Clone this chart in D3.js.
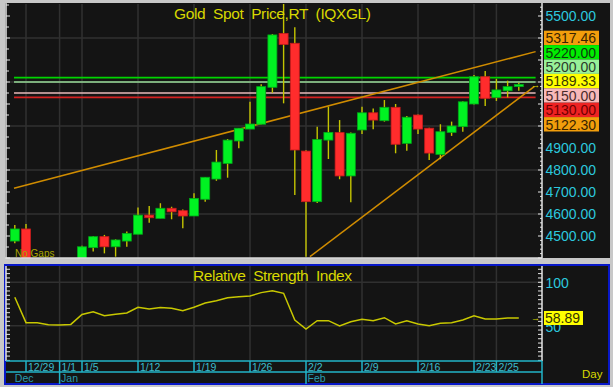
<!DOCTYPE html>
<html>
<head>
<meta charset="utf-8">
<script src="https://cdn.jsdelivr.net/npm/d3@7"></script>
<style>
body { margin: 0; background: #c8c8c8; }
svg { display: block; font-family: "Liberation Sans", Arial, sans-serif; }
</style>
</head>
<body>
<svg id="chart" width="613" height="387"></svg>
<script>
// daily bars, 12/26 .. 2/27
const dates = ["12/26","12/29","12/30","12/31","1/1","1/2","1/5","1/6","1/7","1/8","1/9",
  "1/12","1/13","1/14","1/15","1/16","1/19","1/20","1/21","1/22","1/23",
  "1/26","1/27","1/28","1/29","1/30","2/2","2/3","2/4","2/5","2/6",
  "2/9","2/10","2/11","2/12","2/13","2/16","2/17","2/18","2/19","2/20",
  "2/23","2/24","2/25","2/26","2/27"];
const open  = [4477,4532,4335,4370,4315,4320,4330,4447,4497,4451,4477,
  4508,4595,4580,4626,4615,4591,4667,4759,4830,4932,
  4986,5008,5176,5421,5376,4886,4656,4936,4970,4773,
  4982,5060,5024,5085,4921,5050,4990,4871,4971,4997,
  5100,5224,5129,5160,5179];
const high  = [4550,4555,4385,4378,4345,4390,4456,4500,4505,4485,4520,
  4630,4636,4649,4633,4621,4694,4767,4891,4941,4990,
  5110,5190,5418,5598,5449,4890,4997,5088,5027,4970,
  5088,5080,5118,5100,5045,5052,4992,5008,5020,5112,
  5232,5250,5214,5206,5197];
const low   = [4467,4305,4320,4290,4305,4310,4320,4429,4421,4406,4451,
  4508,4560,4580,4576,4535,4591,4656,4751,4765,4899,
  4986,5008,5151,5103,4686,4406,4650,4850,4758,4653,
  4964,4985,5020,4876,4888,4964,4845,4849,4955,4974,
  5098,5091,5114,5130,5160];
const close = [4532,4335,4370,4315,4330,4330,4451,4497,4451,4482,4512,
  4595,4583,4626,4610,4591,4671,4767,4836,4936,4990,
  5009,5179,5414,5371,4891,4656,4939,4971,4773,4967,
  5060,5027,5085,4917,5040,4986,4877,4974,5000,5110,
  5224,5126,5164,5179,5189.33];
const rsi = [82.7,53.5,53.3,51.0,50.8,51.5,63.0,66.0,61.5,63.3,64.6,
  71.2,69.2,71.0,70.0,67.3,71.2,76.2,78.8,82.3,83.4,
  84.2,88.1,90.3,87.3,56.6,46.2,55.8,55.8,49.7,54.6,
  57.4,55.8,59.2,52.0,55.8,52.0,50.0,52.8,53.5,56.6,
  61.5,57.7,57.7,58.89,58.89];

const dateTicks = ["12/29","1/1","1/5","1/12","1/19","1/26","2/2","2/9","2/16","2/23","2/25"];
const monthNames = ["Dec","Jan","Feb"];
const monthStarts = ["12/26","1/1","2/2"];
const priceTicks = [5500,4900,4800,4700,4600,4500]; // 5000-5400 sit under the value tags
const priceGrid = [5400,5200,5000,4800,4600];
const rsiTicks = [100,50];

const levelValues = [5220,5200,5150,5130];
const levelColors = ["#00d400","#98dc98","#e8b8b8","#d42020"];
// trend lines as [bar index, price] end points
const trendA = [[-0.07,4717],[46.5,5338]];
const trendB = [[26.35,4406],[46.4,5180]];

const tagValues = [5317.46,5220.00,5200.00,5189.33,5150.00,5130.00,5122.30];
const tagFills  = ["#f29e0c","#00ee00","#98f098","#ffff00","#f7b9b9","#ee2222","#f29e0c"];
const tagInk    = ["#3a2400","#0e3a0e","#2a3a2a","#3a3a00","#4a2a2a","#700000","#3a2400"];
const lastRsi = 58.89;

const svg = d3.select("#chart");
const bg = "#141414", gridC = "#303030", cyan = "#2cc8de", yel = "#d8d800";

// panels
svg.append("rect").attr("x",5).attr("y",3).attr("width",605).attr("height",255).attr("fill",bg);
svg.append("rect").attr("x",5).attr("y",265).attr("width",604).attr("height",119)
  .attr("fill",bg).attr("stroke","#0818c8").attr("stroke-width",2);

const x = d3.scaleLinear().domain([0,45]).range([14.8,518.8]);
const y = d3.scaleLinear().domain([4400,5400]).range([258,38]);
const yr = d3.scaleLinear().domain([50,100]).range([325.7,282.3]);
const idx = d => dates.indexOf(d);

svg.append("clipPath").attr("id","clipMain").append("rect")
  .attr("x",6).attr("y",4).attr("width",536).attr("height",254);

const main = svg.append("g").attr("clip-path","url(#clipMain)");

// grid
main.selectAll(".hg").data(priceGrid).enter().append("line")
  .attr("x1",6).attr("x2",542).attr("y1",d=>y(d)).attr("y2",d=>y(d))
  .attr("stroke",gridC).attr("stroke-width",1.5);
main.selectAll(".vg").data(dateTicks).enter().append("line")
  .attr("x1",d=>x(idx(d))).attr("x2",d=>x(idx(d))).attr("y1",4).attr("y2",258)
  .attr("stroke",gridC).attr("stroke-width",1.5);

// level lines
main.selectAll(".lvl").data(levelValues).enter().append("line")
  .attr("x1",x(-0.07)).attr("x2",x(46.5))
  .attr("y1",d=>y(d)).attr("y2",d=>y(d))
  .attr("stroke",(d,i)=>levelColors[i]).attr("stroke-width",1.6);

// trend lines
[trendA,trendB].forEach(t => {
  main.append("line")
    .attr("x1",x(t[0][0])).attr("y1",y(t[0][1]))
    .attr("x2",x(t[1][0])).attr("y2",y(t[1][1]))
    .attr("stroke","#d08c00").attr("stroke-width",1.5);
});

// candles
const bars = d3.range(dates.length);
main.selectAll(".wick").data(bars).enter().append("line")
  .attr("x1",i=>x(i)).attr("x2",i=>x(i))
  .attr("y1",i=>y(high[i])).attr("y2",i=>y(low[i]))
  .attr("stroke","#c4c400").attr("stroke-width",1.4);
main.selectAll(".body").data(bars).enter().append("rect")
  .attr("x",i=>x(i)-4.5).attr("width",9)
  .attr("y",i=>y(Math.max(open[i],close[i])))
  .attr("height",i=>Math.max(1.5,Math.abs(y(open[i])-y(close[i]))))
  .attr("fill",i=>close[i]>=open[i]?"#00f222":"#ff2c2c")
  .attr("stroke",i=>close[i]>=open[i]?"#00a818":"#c81c1c").attr("stroke-width",0.8);

// last price arrow
main.append("text").attr("x",531).attr("y",y(close[45])+3.5)
  .attr("fill",yel).attr("font-size",9).text("\u2192");

main.append("text").attr("x",15).attr("y",256.5).attr("fill","#a8a400")
  .attr("font-size",10).text("No Gaps");

// title
svg.append("text").attr("x",174).attr("y",18.5).attr("fill",yel)
  .attr("font-size",15.5).attr("textLength",197).attr("lengthAdjust","spacing")
  .style("white-space","pre").text("Gold  Spot  Price,RT  (IQXGL)");

// axes lines
svg.append("line").attr("x1",6).attr("x2",6).attr("y1",3).attr("y2",258).attr("stroke","#e6e6e6").attr("stroke-width",1.5);
svg.append("line").attr("x1",542).attr("x2",542).attr("y1",3).attr("y2",258).attr("stroke","#e6e6e6").attr("stroke-width",1.5);
svg.append("line").attr("x1",5).attr("x2",542).attr("y1",258).attr("y2",258).attr("stroke","#d8d8d8").attr("stroke-width",1.5);

const minor = d3.range(4400,5560,20);
svg.selectAll(".lt").data(d3.range(4400,5560,50)).enter().append("line")
  .attr("x1",6).attr("x2",d=>d%100===0?10:9).attr("y1",d=>y(d)).attr("y2",d=>y(d))
  .attr("stroke","#e6e6e6").attr("stroke-width",1);
svg.selectAll(".rt").data(minor).enter().append("line")
  .attr("x1",542).attr("x2",d=>d%100===0?538:540).attr("y1",d=>y(d)).attr("y2",d=>y(d))
  .attr("stroke","#e6e6e6").attr("stroke-width",1);

// price axis labels
svg.selectAll(".pl").data(priceTicks).enter().append("text")
  .attr("x",545.5).attr("y",d=>y(d)+5.3).attr("fill",cyan).attr("font-size",14)
  .text(d=>d3.format(".2f")(d));

// stacked value tags
const tagTop = 30.7, tagH = 14.4;
const tags = svg.selectAll(".tag").data(tagValues).enter().append("g");
tags.append("rect").attr("x",544).attr("width",55).attr("y",(d,i)=>tagTop+i*tagH).attr("height",tagH)
  .attr("fill",(d,i)=>tagFills[i]);
tags.append("text").attr("x",545.5).attr("y",(d,i)=>tagTop+i*tagH+12.5)
  .attr("fill",(d,i)=>tagInk[i]).attr("font-size",14).text(d=>d3.format(".2f")(d));

// RSI panel
svg.append("clipPath").attr("id","clipRsi").append("rect")
  .attr("x",6).attr("y",266).attr("width",536).attr("height",95);
const rp = svg.append("g").attr("clip-path","url(#clipRsi)");
rp.selectAll(".rhg").data(rsiTicks).enter().append("line")
  .attr("x1",6).attr("x2",542).attr("y1",d=>yr(d)).attr("y2",d=>yr(d))
  .attr("stroke",gridC).attr("stroke-width",1.5);
rp.selectAll(".rvg").data(dateTicks).enter().append("line")
  .attr("x1",d=>x(idx(d))).attr("x2",d=>x(idx(d))).attr("y1",266).attr("y2",361)
  .attr("stroke",gridC).attr("stroke-width",1.5);
rp.append("path").datum(rsi)
  .attr("d",d3.line().x((d,i)=>x(i)).y(d=>yr(d)))
  .attr("fill","none").attr("stroke","#c8c800").attr("stroke-width",1.5);
rp.append("text").attr("x",531).attr("y",yr(lastRsi)+3.5)
  .attr("fill",yel).attr("font-size",9).text("\u2192");

svg.append("text").attr("x",193).attr("y",281).attr("fill",yel)
  .attr("font-size",15.5).attr("textLength",159).attr("lengthAdjust","spacing")
  .style("white-space","pre").text("Relative  Strength  Index");

svg.append("line").attr("x1",6).attr("x2",6).attr("y1",266).attr("y2",361).attr("stroke","#e6e6e6").attr("stroke-width",1.5);
svg.append("line").attr("x1",542).attr("x2",542).attr("y1",266).attr("y2",361).attr("stroke","#e6e6e6").attr("stroke-width",1.5);
const rTicks = d3.range(10,120,5);
svg.selectAll(".rlt").data(rTicks).enter().append("line")
  .attr("x1",6).attr("x2",10).attr("y1",d=>yr(d)).attr("y2",d=>yr(d))
  .attr("stroke","#e6e6e6").attr("stroke-width",1);
svg.selectAll(".rrt").data(rTicks).enter().append("line")
  .attr("x1",542).attr("x2",538).attr("y1",d=>yr(d)).attr("y2",d=>yr(d))
  .attr("stroke","#e6e6e6").attr("stroke-width",1);

// "50" peeks out below the last-value box, as in the source
svg.selectAll(".rl").data(rsiTicks).enter().append("text")
  .attr("x",545.5).attr("y",d=>yr(d)+(d===50?6.5:5.3)).attr("fill",cyan).attr("font-size",14)
  .text(d=>d);
svg.append("rect").attr("x",544).attr("y",yr(lastRsi)-7).attr("width",39).attr("height",14).attr("fill","#ffff00");
svg.append("text").attr("x",545).attr("y",yr(lastRsi)+5.3).attr("fill","#333300").attr("font-size",14)
  .text(d3.format(".2f")(lastRsi));

// date axis
const axC = "#22b4c8";
svg.append("line").attr("x1",6).attr("x2",542).attr("y1",361).attr("y2",361).attr("stroke",axC).attr("stroke-width",1.5);
svg.append("line").attr("x1",6).attr("x2",542).attr("y1",372).attr("y2",372).attr("stroke",axC).attr("stroke-width",1.5);
svg.append("line").attr("x1",542).attr("x2",542).attr("y1",361).attr("y2",384).attr("stroke",axC).attr("stroke-width",1.5);
svg.selectAll(".dt").data(dateTicks).enter().append("line")
  .attr("x1",d=>x(idx(d))).attr("x2",d=>x(idx(d))).attr("y1",361)
  .attr("y2",d=>monthStarts.includes(d)?384:372)
  .attr("stroke",axC).attr("stroke-width",1.5);
svg.selectAll(".dl").data(dateTicks).enter().append("text")
  .attr("x",d=>x(idx(d))+2).attr("y",370.5).attr("fill","#3cbccc").attr("font-size",10.5)
  .text(d=>d);
svg.selectAll(".ml").data(monthNames).enter().append("text")
  .attr("x",(d,i)=>i===0?x(0):x(idx(monthStarts[i]))+1.5).attr("y",382).attr("fill","#2a9cb0").attr("font-size",10.5)
  .text(d=>d);
svg.append("text").attr("x",582).attr("y",378).attr("fill",yel).attr("font-size",11.5).text("Day");
</script>
</body>
</html>
